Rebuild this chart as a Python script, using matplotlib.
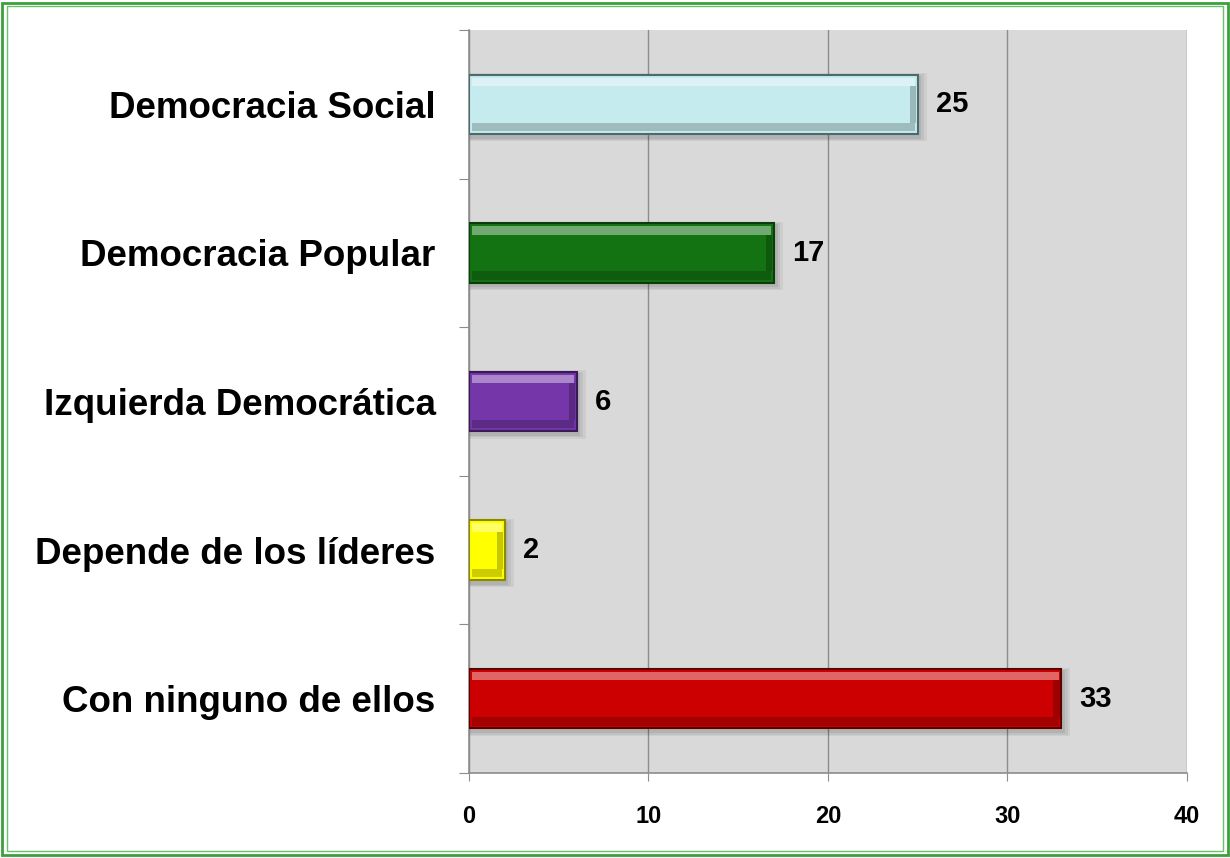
import matplotlib
matplotlib.use("Agg")
import matplotlib.pyplot as plt
from matplotlib.patches import Rectangle

categories = ["Democracia Social", "Democracia Popular", "Izquierda Democrática",
              "Depende de los líderes", "Con ninguno de ellos"]
values = [25, 17, 6, 2, 33]
colors = ["#c6ebee", "#137313", "#7436a8", "#ffff00", "#cc0000"]
edges = ["#4a6a6e", "#0b3d0b", "#3a1a55", "#8a8a00", "#5a0000"]
xticks = [0, 10, 20, 30, 40]

plt.rcParams['font.family'] = ['Liberation Sans', 'DejaVu Sans']

fig = plt.figure(figsize=(12.3, 8.58), dpi=100)
ax = fig.add_axes([0.3813, 0.099, 0.5837, 0.866])
ax.set_facecolor("#d9d9d9")

ypos = list(range(len(categories)))[::-1]
h = 0.4
# soft shadows
for k, a in [(0.5, 0.05), (0.35, 0.06), (0.2, 0.07)]:
    ax.barh([y - 0.02 for y in ypos], [v + k for v in values], height=h + k * 0.12,
            color="#000000", alpha=a, zorder=2, linewidth=0)
ax.barh(ypos, values, height=h, color=colors, edgecolor=edges, linewidth=1.5, zorder=3)
# bevel highlight
for y, v, c in zip(ypos, values, colors):
    ax.barh(y + h * 0.38, v - 0.3, left=0.15, height=h * 0.14, color="white", alpha=0.4,
            zorder=4, linewidth=0)
    ax.barh(y - h * 0.38, v - 0.3, left=0.15, height=h * 0.14, color="black", alpha=0.2,
            zorder=4, linewidth=0)
    ax.barh(y, 0.35, left=v - 0.45, height=h * 0.62, color="black", alpha=0.22,
            zorder=4, linewidth=0)
    ax.text(v + 1.0, y, str(v), va="center", ha="left", fontsize=21, fontweight="bold",
            color="black", zorder=5)

ax.set_xlim(0, 40)
ax.set_ylim(-0.5, len(categories) - 0.5)
ax.set_xticks(xticks)
ax.set_xticklabels([str(t) for t in xticks], fontsize=17, fontweight="bold")
ax.xaxis.grid(True, color="#8c8c8c", linewidth=1)
ax.set_axisbelow(True)

ax.set_yticks([y - 0.5 for y in range(len(categories) + 1)])
ax.set_yticklabels([])
ax.set_yticks(ypos, minor=True)
ax.set_yticklabels(categories, minor=True, fontsize=26.5, fontweight="bold")
ax.tick_params(axis="y", which="minor", length=0, pad=24)
ax.tick_params(axis="y", which="major", length=7, color="#8c8c8c", direction="out")
ax.tick_params(axis="x", length=6, color="#8c8c8c", pad=17)

for s in ["top", "right"]:
    ax.spines[s].set_visible(False)
for s in ["left", "bottom"]:
    ax.spines[s].set_color("#8c8c8c")
    ax.spines[s].set_linewidth(1.2)

fig.patches.append(Rectangle((0.002, 0.003), 0.996, 0.994, transform=fig.transFigure,
                             fill=False, edgecolor="#3ca03c", linewidth=2))
fig.patches.append(Rectangle((0.006, 0.008), 0.988, 0.985, transform=fig.transFigure,
                             fill=False, edgecolor="#6cc06c", linewidth=1))

fig.savefig("out.png", dpi=100)
